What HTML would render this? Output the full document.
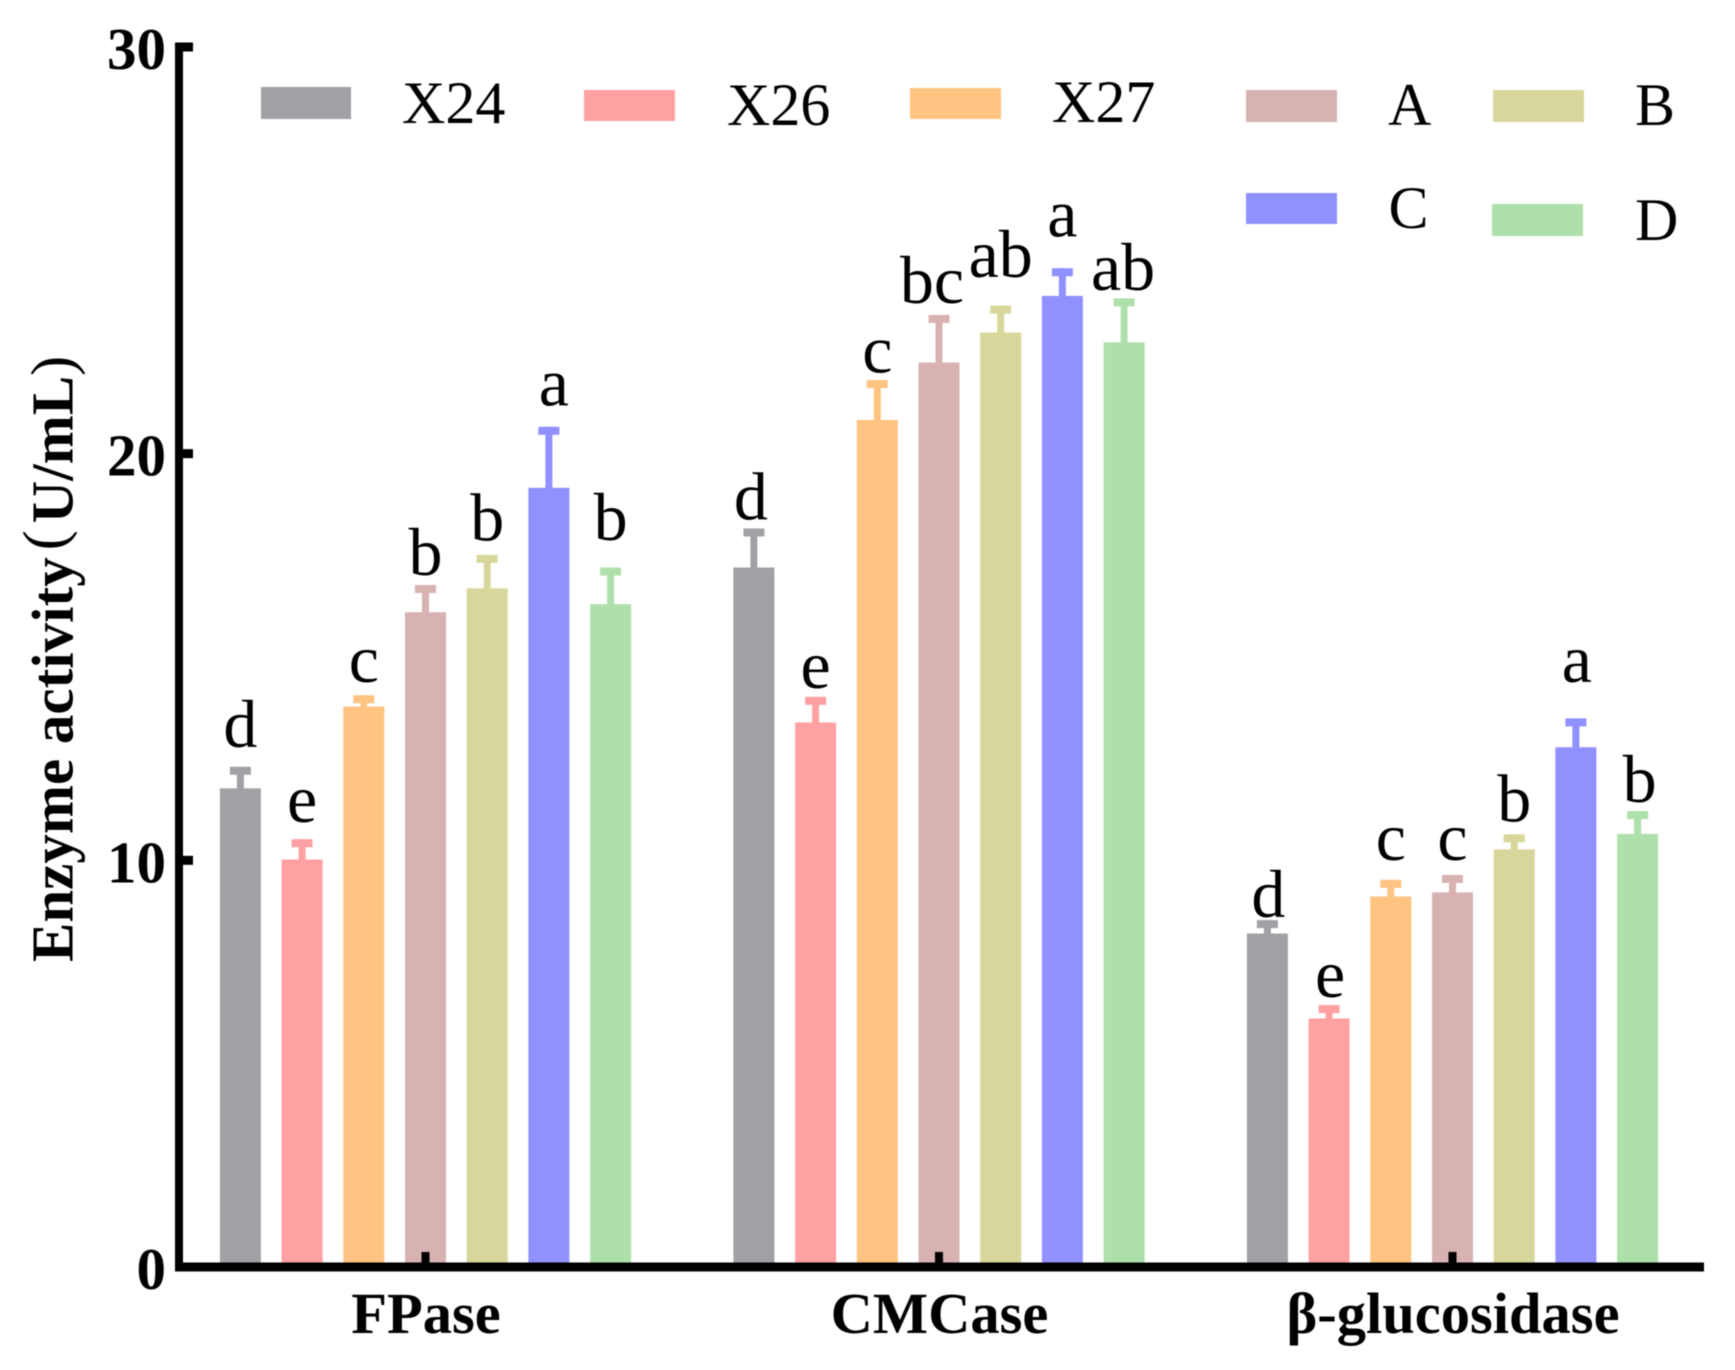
<!DOCTYPE html>
<html lang="en">
<head>
<meta charset="utf-8">
<title>Enzyme activity chart</title>
<style>
html,body{margin:0;padding:0;background:#fff;}
body{width:1735px;height:1370px;overflow:hidden;}
#chart{display:block;filter:blur(0.6px);}
text{font-family:"Liberation Serif","Noto Serif CJK SC",serif;fill:#000;}
.tick{font-size:59px;font-weight:bold;}
.cat{font-size:58.5px;font-weight:bold;}
.leg{font-size:60px;}
.sig{font-size:68px;}
.ttl{font-size:59px;font-weight:bold;}
</style>
</head>
<body>
<svg id="chart" xmlns="http://www.w3.org/2000/svg" width="1735" height="1370" viewBox="0 0 1735 1370">
  <g id="bars"></g>
  <g id="axes"></g>
  <g id="labels"></g>
  <g>
    <rect x="261" y="87" width="90" height="32" fill="#a1a0a5"/>
    <text class="leg" x="402" y="123">X24</text>
    <rect x="584" y="90" width="91" height="31" fill="#ffa0a2"/>
    <text class="leg" x="727" y="125">X26</text>
    <rect x="910" y="88" width="91" height="31" fill="#ffc382"/>
    <text class="leg" x="1052" y="122">X27</text>
    <rect x="1246" y="90" width="91" height="32" fill="#d8b1b1"/>
    <text class="leg" x="1388" y="125">A</text>
    <rect x="1493" y="90" width="91" height="32" fill="#d8d79b"/>
    <text class="leg" x="1635" y="125">B</text>
    <rect x="1246" y="193" width="91" height="31" fill="#9090ff"/>
    <text class="leg" x="1388.5" y="228">C</text>
    <rect x="1492" y="204" width="91" height="32" fill="#aee0ab"/>
    <text class="leg" x="1635" y="240">D</text>
  </g>
  <text class="ttl" transform="translate(72.7,962) rotate(-90)">Enzyme activity<tspan font-weight="normal" font-size="60" dx="7" dy="-8">(</tspan><tspan dx="7" dy="8">U/mL</tspan><tspan font-weight="normal" font-size="60">)</tspan></text>
</svg>
<script>
const categories = ["FPase", "CMCase", "β-glucosidase"];
const seriesNames = ["X24", "X26", "X27", "A", "B", "C", "D"];
const seriesColors = ["#a1a0a5", "#ffa0a2", "#ffc382", "#d8b1b1", "#d8d79b", "#9090ff", "#aee0ab"];
const yTicks = [0, 10, 20, 30];

const fpaseValues = [11.77, 10.02, 13.78, 16.10, 16.69, 19.16, 16.30];
const fpaseErrors = [0.53, 0.50, 0.28, 0.67, 0.82, 1.50, 0.90];
const fpaseLetters = ["d", "e", "c", "b", "b", "a", "b"];
const fpaseLetterLift = [0.49, 0.42, 0.33, 0.25, 0.36, 0.53, 0.68];
const fpaseLetterShift = [0, 0, 0, 0, 0, 5, 0];

const cmcaseValues = [17.20, 13.39, 20.83, 22.24, 22.98, 23.88, 22.74];
const cmcaseErrors = [0.96, 0.63, 0.98, 1.17, 0.66, 0.68, 1.08];
const cmcaseLetters = ["d", "e", "c", "bc", "ab", "a", "ab"];
const cmcaseLetterLift = [0.22, 0.22, 0.18, 0.30, 0.71, 0.78, 0.20];
const cmcaseLetterShift = [-3, 0, 0, -7, 0, 0, -1];

const glucosidaseValues = [8.20, 6.11, 9.11, 9.21, 10.27, 12.78, 10.65];
const glucosidaseErrors = [0.33, 0.33, 0.41, 0.43, 0.37, 0.71, 0.56];
const glucosidaseLetters = ["d", "e", "c", "c", "b", "a", "b"];
const glucosidaseLetterLift = [0.08, 0.20, 0.49, 0.37, 0.31, 0.90, 0.22];
const glucosidaseLetterShift = [1, 1, 0, 0, 0, 1, 2];

const groupValues = [fpaseValues, cmcaseValues, glucosidaseValues];
const groupErrors = [fpaseErrors, cmcaseErrors, glucosidaseErrors];
const groupLetters = [fpaseLetters, cmcaseLetters, glucosidaseLetters];
const groupLift = [fpaseLetterLift, cmcaseLetterLift, glucosidaseLetterLift];
const groupShift = [fpaseLetterShift, cmcaseLetterShift, glucosidaseLetterShift];

const NS = "http://www.w3.org/2000/svg";
const Y_ZERO = 1267, Y_TOP = 47, Y_MAX = 30;
const GROUP_FIRST = 425.5, GROUP_STEP = 513.5, BAR_STEP = 61.7, BAR_W = 41;

function yScale(v) { return Y_ZERO - (v / Y_MAX) * (Y_ZERO - Y_TOP); }
function groupCenter(g) { return GROUP_FIRST + g * GROUP_STEP; }
function barCenter(g, s) { return groupCenter(g) + (s - (seriesNames.length - 1) / 2) * BAR_STEP; }
function slug(t) { return t.toLowerCase().replace(/[^a-z0-9]+/g, "-").replace(/^-|-$/g, ""); }

function make(tag, parent, props) {
  const el = document.createElementNS(NS, tag);
  for (const k in props) el.setAttribute(k, props[k]);
  parent.appendChild(el);
  return el;
}

const barsLayer = document.getElementById("bars");
const axesLayer = document.getElementById("axes");
const labelsLayer = document.getElementById("labels");

categories.forEach(function (cat, g) {
  seriesNames.forEach(function (name, s) {
    const value = groupValues[g][s];
    const top = yScale(value);
    const errTop = yScale(value + groupErrors[g][s]);
    const cx = barCenter(g, s);
    const color = seriesColors[s];
    const id = slug(cat) + "-" + slug(name);

    const stem = make("rect", barsLayer, { x: cx - 3.5, y: errTop, width: 7, height: Math.max(top - errTop, 0) + 1, fill: color });
    
    

    const cap = make("rect", barsLayer, { x: cx - 10.5, y: errTop, width: 21, height: 8, fill: color });
    
    

    const bar = make("rect", barsLayer, { x: cx - BAR_W / 2, y: top, width: BAR_W, height: Y_ZERO - top, fill: color });
    
    

    const sig = make("text", labelsLayer, { class: "sig", x: cx + groupShift[g][s], y: yScale(value + groupErrors[g][s] + groupLift[g][s]), "text-anchor": "middle" });
    sig.textContent = groupLetters[g][s];
    
    
  });

  const xTick = make("rect", axesLayer, { x: groupCenter(g) - 4, y: 1252, width: 8, height: 15, fill: "#000" });
  
  

  const xLabel = make("text", axesLayer, { class: "cat", x: groupCenter(g) + 0.5, y: 1333, "text-anchor": "middle" });
  xLabel.textContent = cat;
  
  
});

const yLine = make("rect", axesLayer, { x: 175, y: Y_TOP - 4.5, width: 8, height: Y_ZERO - Y_TOP + 9, fill: "#000" });



const xLine = make("rect", axesLayer, { x: 175, y: Y_ZERO - 4.5, width: 1529, height: 9, fill: "#000" });



yTicks.forEach(function (t) {
  const y = yScale(t);
  if (t !== 0) {
    const mark = make("rect", axesLayer, { x: 175, y: y - 4.5, width: 18, height: 9, fill: "#000" });
    
    
  }
  const label = make("text", axesLayer, { class: "tick", x: 166, y: y + 22, "text-anchor": "end" });
  label.textContent = String(t);
  
  
});
</script>
</body>
</html>
